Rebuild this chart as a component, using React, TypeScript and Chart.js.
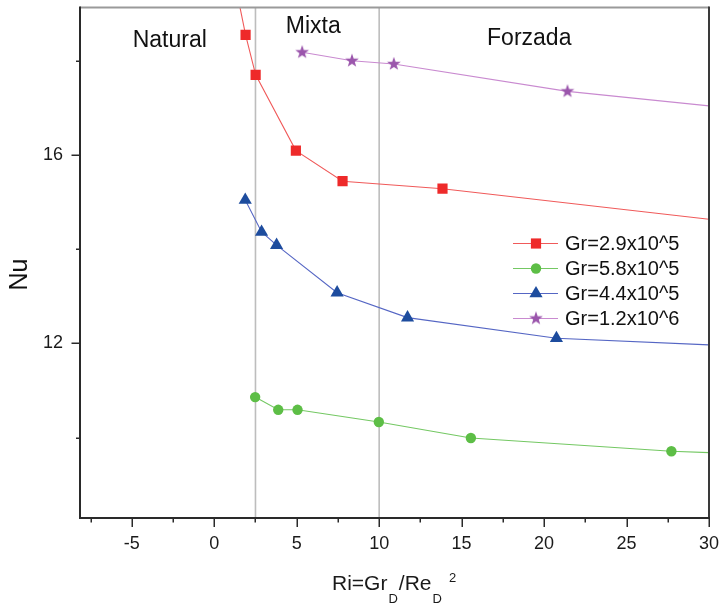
import { useEffect, useRef } from 'react';
import { Chart, registerables } from 'chart.js';
import { drawPoint } from 'chart.js/helpers';

Chart.register(...registerables);

const FONT = '"Liberation Sans", Arial, Helvetica, sans-serif';

// Ri = Gr_D / Re_D^2 (x) against Nu (y) for each Grashof number.
// A 0 in the mark arrays means the point only continues the curve (no marker).
const ri29 = [1.5, 1.9, 2.51, 4.95, 7.78, 13.84, 30];
const nu29 = [19.25, 18.56, 17.71, 16.1, 15.45, 15.29, 14.64];
const mark29 = [0, 1, 1, 1, 1, 1, 0];

const ri58 = [2.48, 3.88, 5.05, 9.98, 15.56, 27.72, 30];
const nu58 = [10.86, 10.59, 10.59, 10.33, 9.99, 9.71, 9.68];
const mark58 = [1, 1, 1, 1, 1, 1, 0];

const ri44 = [1.88, 2.87, 3.78, 7.45, 11.72, 20.75, 30];
const nu44 = [15.05, 14.37, 14.09, 13.08, 12.55, 12.11, 11.97];
const mark44 = [1, 1, 1, 1, 1, 1, 0];

const ri12 = [5.33, 8.35, 10.89, 21.42, 30];
const nu12 = [18.19, 18.01, 17.94, 17.36, 17.05];
const mark12 = [1, 1, 1, 1, 0];

const seriesLabels = ['Gr=2.9x10^5', 'Gr=5.8x10^5', 'Gr=4.4x10^5', 'Gr=1.2x10^6'];

// Convection regimes: boundaries on Ri and the label placed in each region
const regimeBounds = [2.5, 10];
const regimeNames = ['Natural', 'Mixta', 'Forzada'];
const regimeX = [-2.7, 6.0, 19.1];
const regimeY = [18.31, 18.59, 18.35];

const xMajorTicks = [-5, 0, 5, 10, 15, 20, 25, 30];
const xMinorTicks = [-7.5, -2.5, 2.5, 7.5, 12.5, 17.5, 22.5, 27.5];
const yMajorTicks = [12, 16];
const yMinorTicks = [10, 14, 18];

const xRange = [-8.14, 30];
const yRange = [8.29, 19.14];

function makeStar(color: string) {
  const c = document.createElement('canvas');
  c.width = 16;
  c.height = 16;
  const g = c.getContext('2d')!;
  const R = 7.2;
  const r = R * 0.4;
  g.beginPath();
  for (let i = 0; i < 10; i++) {
    const a = -Math.PI / 2 + (i * Math.PI) / 5;
    const rad = i % 2 === 0 ? R : r;
    const px = 8 + Math.cos(a) * rad;
    const py = 8 + Math.sin(a) * rad;
    if (i === 0) g.moveTo(px, py);
    else g.lineTo(px, py);
  }
  g.closePath();
  g.fillStyle = color;
  g.fill();
  return c;
}

function toXY(xs: number[], ys: number[]) {
  return xs.map((x, i) => ({ x, y: ys[i] }));
}

function drawXTitle(ctx: CanvasRenderingContext2D) {
  const big = `21px ${FONT}`;
  const small = `13px ${FONT}`;
  const parts = [
    { t: 'Ri=Gr', f: big, dy: 0, gap: 0 },
    { t: 'D', f: small, dy: 13, gap: 1 },
    { t: '/Re', f: big, dy: 0, gap: 1 },
    { t: 'D', f: small, dy: 13, gap: 1 },
    { t: '2', f: small, dy: -8, gap: 7 },
  ];
  const base = 590;
  let x = 332;
  ctx.save();
  ctx.fillStyle = '#1a1a1a';
  ctx.textAlign = 'left';
  ctx.textBaseline = 'alphabetic';
  for (const p of parts) {
    ctx.font = p.f;
    x += p.gap;
    ctx.fillText(p.t, x, base + p.dy);
    x += ctx.measureText(p.t).width;
  }
  ctx.restore();
}

function noScalePadding(s: any) {
  s.paddingTop = 0;
  s.paddingBottom = 0;
  s.paddingLeft = 0;
  s.paddingRight = 0;
}

const decorPlugin = {
  id: 'decor',
  beforeDatasetsDraw(chart: any) {
    const { ctx, chartArea } = chart;
    const xs = chart.scales.x;
    ctx.save();
    ctx.strokeStyle = '#bdbdbd';
    ctx.lineWidth = 1.6;
    for (const b of regimeBounds) {
      const px = xs.getPixelForValue(b);
      ctx.beginPath();
      ctx.moveTo(px, chartArea.top);
      ctx.lineTo(px, chartArea.bottom);
      ctx.stroke();
    }
    ctx.restore();
  },
  afterDraw(chart: any) {
    const { ctx, chartArea } = chart;
    const xs = chart.scales.x;
    const ys = chart.scales.y;
    const { left, right, top, bottom } = chartArea;
    ctx.save();

    // frame
    ctx.lineWidth = 2;
    ctx.strokeStyle = '#9a9a9a';
    ctx.beginPath();
    ctx.moveTo(left, top);
    ctx.lineTo(right, top);
    ctx.stroke();
    ctx.strokeStyle = '#3a3a3a';
    ctx.beginPath();
    ctx.moveTo(right, top - 1);
    ctx.lineTo(right, bottom);
    ctx.stroke();
    ctx.strokeStyle = '#2a2a2a';
    ctx.beginPath();
    ctx.moveTo(left, top - 1);
    ctx.lineTo(left, bottom);
    ctx.lineTo(right + 1, bottom);
    ctx.stroke();

    // tick marks
    ctx.lineWidth = 1.5;
    ctx.strokeStyle = '#2a2a2a';
    for (const t of xs.ticks) {
      const px = Math.round(xs.getPixelForValue(t.value)) + 0.25;
      const len = xMajorTicks.includes(t.value) ? 9 : 4.5;
      ctx.beginPath();
      ctx.moveTo(px, bottom);
      ctx.lineTo(px, bottom + len);
      ctx.stroke();
    }
    for (const t of ys.ticks) {
      const py = Math.round(ys.getPixelForValue(t.value)) + 0.25;
      const len = yMajorTicks.includes(t.value) ? 8.5 : 4;
      ctx.beginPath();
      ctx.moveTo(left - len, py);
      ctx.lineTo(left, py);
      ctx.stroke();
    }

    // regime labels
    ctx.fillStyle = '#111';
    ctx.font = `23px ${FONT}`;
    ctx.textAlign = 'center';
    ctx.textBaseline = 'alphabetic';
    regimeNames.forEach((name, i) => {
      ctx.fillText(name, xs.getPixelForValue(regimeX[i]), ys.getPixelForValue(regimeY[i]));
    });

    // legend
    const lx0 = 513;
    const lx1 = 558;
    const mx = 536;
    const tx = 565;
    chart.data.datasets.forEach((ds: any, i: number) => {
      const y = 243.5 + i * 25;
      ctx.strokeStyle = ds.borderColor;
      ctx.lineWidth = 1;
      ctx.beginPath();
      ctx.moveTo(lx0, y);
      ctx.lineTo(lx1, y);
      ctx.stroke();
      ctx.fillStyle = ds.pointBackgroundColor;
      drawPoint(ctx, { pointStyle: ds.pointStyle, radius: ds.legendRadius, rotation: 0, borderWidth: 0 } as any, mx, y);
      ctx.fillStyle = '#111';
      ctx.font = `20px ${FONT}`;
      ctx.textAlign = 'left';
      ctx.textBaseline = 'middle';
      ctx.fillText(ds.label, tx, y + 1);
    });

    // axis titles
    ctx.save();
    ctx.translate(26.5, 274.5);
    ctx.rotate(-Math.PI / 2);
    ctx.font = `25px ${FONT}`;
    ctx.fillStyle = '#111';
    ctx.textAlign = 'center';
    ctx.textBaseline = 'alphabetic';
    ctx.fillText('Nu', 0, 0);
    ctx.restore();
    drawXTitle(ctx);

    ctx.restore();
  },
};

export default function App() {
  const ref = useRef<HTMLCanvasElement | null>(null);

  useEffect(() => {
    const canvas = ref.current;
    if (!canvas) return;
    const star = makeStar('#9b56ac');

    const series = [
      { xs: ri29, ys: nu29, mk: mark29, line: '#f05a5a', fill: '#ee2a2a', style: 'rect', r: 7.2 },
      { xs: ri58, ys: nu58, mk: mark58, line: '#74c863', fill: '#5dbe46', style: 'circle', r: 5.2 },
      { xs: ri44, ys: nu44, mk: mark44, line: '#5566c4', fill: '#1d4c9e', style: 'triangle', r: 7.6 },
      { xs: ri12, ys: nu12, mk: mark12, line: '#c98ad0', fill: '#9b56ac', style: star, r: 7 },
    ];

    const datasets = series.map((s, i) => ({
      label: seriesLabels[i],
      data: toXY(s.xs, s.ys),
      showLine: true,
      borderColor: s.line,
      borderWidth: 1.1,
      backgroundColor: s.fill,
      pointBackgroundColor: s.fill,
      pointBorderColor: s.fill,
      pointBorderWidth: 0,
      pointStyle: s.style as any,
      pointRadius: (c: any) => (s.mk[c.dataIndex] ? s.r : 0),
      pointHoverRadius: (c: any) => (s.mk[c.dataIndex] ? s.r : 0),
      legendRadius: s.r,
      tension: 0,
      fill: false,
    }));

    const tickFont = { family: FONT, size: 18 };

    const chart = new Chart(canvas, {
      type: 'scatter',
      data: { datasets: datasets as any },
      options: {
        animation: false,
        responsive: false,
        events: [],
        layout: { padding: { left: 0, right: 13, top: 6, bottom: 0 } },
        plugins: { legend: { display: false }, tooltip: { enabled: false } },
        scales: {
          x: {
            type: 'linear',
            min: xRange[0],
            max: xRange[1],
            grid: { display: false, drawTicks: false },
            border: { display: false },
            afterBuildTicks: (s: any) => {
              s.ticks = [...xMinorTicks, ...xMajorTicks].sort((a, b) => a - b).map((v) => ({ value: v }));
            },
            afterFit: (s: any) => {
              s.height = 88;
              noScalePadding(s);
            },
            ticks: {
              autoSkip: false,
              maxRotation: 0,
              padding: 15,
              color: '#1a1a1a',
              font: tickFont,
              callback: (v: any) => (xMajorTicks.includes(Number(v)) ? String(v) : ''),
            },
          },
          y: {
            type: 'linear',
            min: yRange[0],
            max: yRange[1],
            grid: { display: false, drawTicks: false },
            border: { display: false },
            afterBuildTicks: (s: any) => {
              s.ticks = [...yMinorTicks, ...yMajorTicks].sort((a, b) => a - b).map((v) => ({ value: v }));
            },
            afterFit: (s: any) => {
              s.width = 80;
              noScalePadding(s);
            },
            ticks: {
              autoSkip: false,
              padding: 17,
              color: '#1a1a1a',
              font: tickFont,
              callback: (v: any) => (yMajorTicks.includes(Number(v)) ? String(v) : ''),
            },
          },
        },
      },
      plugins: [decorPlugin],
    });

    return () => chart.destroy();
  }, []);

  return (
    <div style={{ position: 'fixed', left: 0, top: 0, width: 722, height: 606, background: '#fff' }}>
      <canvas ref={ref} width={722} height={606} style={{ display: 'block', width: 722, height: 606 }} />
    </div>
  );
}
